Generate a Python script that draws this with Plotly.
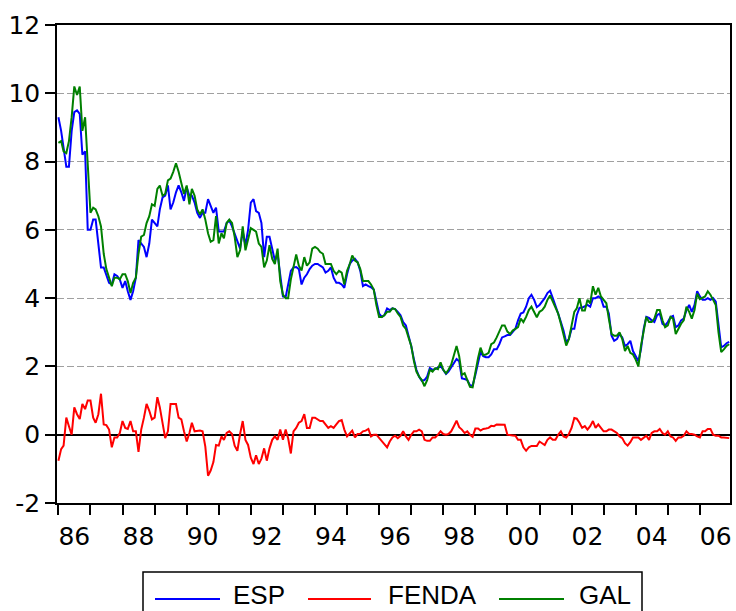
import pandas as pd
import plotly.graph_objects as go

# Monthly observations 1986M01 - 2006M12
dates = pd.date_range("1986-01-01", periods=252, freq="MS")

esp = [
    9.3, 8.9, 8.4, 7.85, 7.85, 8.9, 9.45, 9.5, 9.4, 8.2,
    8.3, 6.0, 6.0, 6.3, 6.3, 5.6, 4.9, 4.9, 4.65, 4.45,
    4.4, 4.7, 4.65, 4.55, 4.3, 4.5, 4.2, 3.95, 4.2, 4.6,
    5.7, 5.6, 5.5, 5.2, 5.6, 6.3, 6.2, 6.1, 6.6, 6.95,
    7.0, 7.3, 6.6, 6.8, 7.1, 7.3, 7.1, 6.85, 7.25, 7.0,
    7.0, 6.8, 6.5, 6.35, 6.5, 6.5, 6.9, 6.7, 6.5, 6.65,
    5.95, 5.95, 5.95, 6.2, 6.28, 6.1, 5.9, 5.7, 5.45, 5.95,
    5.55, 6.0, 6.8, 6.9, 6.55, 6.5, 6.2, 5.2, 5.8, 5.8,
    5.4, 5.1, 5.3, 4.6, 4.05, 4.03, 4.35, 4.8, 4.9, 4.91,
    4.85, 4.4, 4.6, 4.7, 4.85, 4.95, 5.0, 5.0, 4.95, 4.9,
    4.75, 4.8, 4.9, 4.6, 4.45, 4.45, 4.4, 4.3, 4.7, 5.0,
    5.1, 5.15, 5.05, 4.8, 4.35, 4.4, 4.35, 4.32, 4.25, 3.9,
    3.55, 3.45, 3.5, 3.7, 3.65, 3.7, 3.68, 3.6, 3.5, 3.3,
    3.2, 2.9, 2.6, 2.2, 1.9, 1.7, 1.58, 1.6, 1.7, 1.95,
    1.9, 1.92, 1.98, 2.02, 1.9, 1.78, 1.85, 1.98, 2.1, 2.22,
    2.15, 1.65, 1.63, 1.6, 1.45, 1.44, 1.75, 2.15, 2.42, 2.3,
    2.27, 2.27, 2.35, 2.5, 2.5, 2.65, 2.85, 2.88, 2.92, 2.92,
    3.0, 3.1, 3.35, 3.55, 3.58, 3.75, 4.0, 4.1, 3.95, 3.74,
    3.8, 3.9, 4.0, 4.15, 4.22, 4.0, 3.8, 3.55, 3.3, 3.05,
    2.71, 2.8, 3.1, 3.1, 3.5, 3.72, 3.72, 3.75, 3.8, 3.75,
    4.0, 4.0, 4.05, 4.0, 3.75, 3.75, 3.55, 2.9, 2.75, 2.8,
    2.95, 2.85, 2.6, 2.65, 2.75, 2.45, 2.3, 2.15, 2.5, 3.1,
    3.45, 3.42, 3.35, 3.3, 3.5, 3.55, 3.25, 3.2, 3.3, 3.45,
    3.48, 3.15, 3.2, 3.35, 3.4, 3.65, 3.8, 3.6, 3.8, 4.2,
    4.05, 3.95, 3.95, 4.0, 3.95, 4.0, 3.9, 3.2, 2.56, 2.6,
    2.68, 2.72,
]

gal = [
    8.55, 8.6, 8.3, 8.25, 8.6, 9.3, 10.2, 9.95, 10.2, 8.9,
    9.3, 8.0, 6.5, 6.65, 6.6, 6.4, 6.1, 5.3, 4.85, 4.6,
    4.35, 4.6, 4.6, 4.55, 4.7, 4.7, 4.5, 4.15, 4.45, 4.6,
    5.3, 5.8, 5.85, 6.2, 6.4, 6.75, 6.7, 7.2, 7.3, 7.0,
    7.05, 7.45, 7.5, 7.7, 7.95, 7.7, 7.4, 7.05, 7.3, 6.75,
    7.2, 7.0, 6.6, 6.45, 6.6, 6.3, 5.9, 5.65, 5.7, 6.4,
    5.6, 5.9, 5.75, 6.2, 6.3, 6.2, 5.8, 5.2, 5.4, 6.1,
    5.4, 5.7, 6.05, 6.0, 5.95, 5.6, 5.5, 4.9, 5.1, 5.55,
    5.15, 5.0, 5.45, 4.5, 4.1, 4.0, 4.0, 4.55, 4.9, 5.28,
    4.95, 4.81, 5.2, 4.95, 5.05, 5.45, 5.5, 5.45, 5.35, 5.3,
    5.0, 5.0, 5.0, 4.8, 4.7, 4.8, 4.75, 4.4, 4.8, 5.0,
    5.25, 5.1, 5.05, 4.85, 4.5, 4.5, 4.5, 4.4, 4.25, 3.8,
    3.45, 3.45, 3.5, 3.6, 3.6, 3.7, 3.68, 3.55, 3.45, 3.2,
    3.1, 2.85, 2.6, 2.15, 1.85, 1.7, 1.6, 1.42, 1.6, 1.9,
    1.85, 1.95, 1.92, 2.12, 1.9, 1.8, 1.9, 2.05, 2.3, 2.6,
    2.3, 1.75, 1.8, 1.6, 1.4, 1.39, 1.85, 2.25, 2.55, 2.33,
    2.35, 2.4, 2.65, 2.7, 2.85, 3.0, 3.2, 3.2, 3.02, 2.95,
    3.05, 3.1, 3.15, 3.4, 3.3, 3.45, 3.65, 3.75, 3.6, 3.44,
    3.6, 3.65, 3.75, 3.95, 4.08, 3.9, 3.7, 3.55, 3.25, 2.95,
    2.61, 2.8, 3.2, 3.6, 3.7, 4.0, 3.64, 3.64, 3.95, 3.85,
    4.35, 4.1, 4.3, 4.05, 3.95, 3.85, 3.4, 2.95, 2.9, 2.9,
    3.0, 2.8, 2.45, 2.6, 2.4, 2.35, 2.2, 2.0, 2.6, 3.1,
    3.45, 3.3, 3.3, 3.4, 3.65, 3.65, 3.35, 3.15, 3.2, 3.45,
    3.4, 2.95, 3.1, 3.25, 3.35, 3.75, 3.6, 3.4, 3.65, 4.13,
    3.97, 4.0, 4.05, 4.2, 4.1, 3.95, 3.8, 3.0, 2.42, 2.5,
    2.6, 2.65,
]

fenda = [
    -0.76, -0.42, -0.32, 0.5, 0.25, 0.0, 0.8, 0.6, 0.46, 0.9,
    0.75, 1.0, 1.0, 0.5, 0.35, 0.6, 1.2, 0.3, 0.28, 0.15,
    -0.37, -0.08, -0.08, 0.05, 0.4, 0.2, 0.17, 0.4, 0.1, 0.1,
    -0.5, 0.15, 0.5, 0.9, 0.7, 0.45, 0.5, 1.1, 0.8, 0.35,
    -0.1, 0.1, 0.9, 0.9, 0.9, 0.5, 0.45, 0.1, -0.2, 0.05,
    0.35, 0.1, 0.12, 0.12, 0.1, -0.35, -1.2, -1.05, -0.8, -0.3,
    -0.32, -0.05, -0.15, 0.05, 0.1, 0.02, -0.32, -0.47, 0.02, 0.4,
    -0.15, -0.3, -0.67, -0.86, -0.6, -0.86, -0.7, -0.4, -0.76, -0.4,
    -0.15, -0.05, -0.15, 0.15, -0.15, 0.15, -0.1, -0.55, 0.1, 0.2,
    0.35, 0.4, 0.6, 0.2, 0.2, 0.5, 0.5, 0.45, 0.4, 0.4,
    0.3, 0.2, 0.25, 0.2, 0.3, 0.4, 0.43, 0.15, -0.05, 0.05,
    0.12, -0.08, 0.02, 0.03, 0.1, 0.12, 0.17, -0.05, 0.0, 0.0,
    -0.1, -0.2, -0.3, -0.37, -0.2, -0.08, -0.03, -0.1, -0.03, 0.1,
    -0.05, -0.15, 0.0, 0.1, 0.1, 0.15, 0.1, -0.15, -0.18, -0.18,
    -0.08, -0.08, 0.0, 0.1, 0.02, 0.0, 0.02, 0.1, 0.25, 0.41,
    0.22, 0.15, 0.05, 0.1, 0.0, -0.06, 0.18, 0.18, 0.12, 0.17,
    0.18, 0.2, 0.26, 0.25, 0.3, 0.29, 0.29, 0.29, 0.0, 0.0,
    -0.02, -0.03, -0.15, -0.15, -0.37, -0.47, -0.37, -0.33, -0.33, -0.33,
    -0.2, -0.25, -0.3, -0.15, -0.08, -0.15, -0.15, 0.0, 0.1, -0.05,
    -0.08, 0.02, 0.2, 0.49, 0.47, 0.35, 0.2, 0.25, 0.15, 0.25,
    0.4, 0.2, 0.3, 0.2, 0.1, 0.1, 0.15, 0.15, 0.1, 0.05,
    -0.05, -0.1, -0.25, -0.32, -0.22, -0.08, -0.08, -0.08, -0.15, -0.08,
    -0.03, -0.15, 0.05, 0.1, 0.1, 0.17, 0.05, 0.0, 0.1, -0.05,
    -0.08, -0.18, -0.08, -0.08, -0.03, 0.1, 0.02, 0.02, 0.0, -0.05,
    -0.08, 0.1, 0.1, 0.17, 0.17, 0.0, -0.03, -0.03, -0.08, -0.08,
    -0.08, -0.1,
]

label_years = list(range(1986, 2007, 2))
tick_labels = [str(y)[2:] for y in label_years]
tick_years = list(range(1986, 2007))
y_ticks = [-2, 0, 2, 4, 6, 8, 10, 12]

series = [("ESP", esp, "#0000FF"), ("FENDA", fenda, "#FF0000"), ("GAL", gal, "#008000")]

fig = go.Figure()
for name, vals, col in series:
    fig.add_trace(go.Scatter(x=dates, y=vals, mode="lines", name=name,
                             line=dict(color=col, width=2), showlegend=False))

FONT = "DejaVu Sans"
FS = 25
fig.update_layout(
    width=736, height=611,
    margin=dict(l=57, r=6, t=25, b=108, autoexpand=False),
    plot_bgcolor="white", paper_bgcolor="white",
    font=dict(family=FONT, size=FS, color="black"),
)
fig.update_xaxes(
    automargin=False,
    range=["1985-12-16", "2006-12-10"],
    tickmode="array",
    tickvals=[f"{y}-07-01" for y in label_years],
    ticktext=tick_labels,
    ticks="outside", ticklen=10, tickcolor="rgba(0,0,0,0)",
    tickfont=dict(family=FONT, size=FS),
    showgrid=False, zeroline=False,
    showline=True, linecolor="black", linewidth=1.5, mirror=True,
    minor=dict(tickmode="array", tickvals=[f"{y}-01-01" for y in tick_years],
               ticks="outside", ticklen=10, tickcolor="black", tickwidth=1.5,
               showgrid=False),
)
fig.update_yaxes(
    automargin=False,
    range=[-2, 12],
    tickmode="array", tickvals=y_ticks, ticktext=[str(v) for v in y_ticks],
    ticks="outside", ticklen=10, tickcolor="black", tickwidth=1.5,
    tickfont=dict(family=FONT, size=FS),
    showgrid=True, gridcolor="#A0A0A0", gridwidth=1, griddash="7px,3px",
    zeroline=True, zerolinecolor="black", zerolinewidth=1.5,
    showline=True, linecolor="black", linewidth=1.5, mirror=True,
)

# Legend box drawn below the plot (EViews style)
def px_x(p):
    return (p - 57) / 673.0

def px_y(p):
    return (503 - p) / 478.0

shapes = [dict(type="rect", xref="paper", yref="paper",
               x0=px_x(143), x1=px_x(642), y0=px_y(572), y1=px_y(660),
               line=dict(color="black", width=1.5), fillcolor="white", layer="above")]
leg_items = [("ESP", "#0000FF", 155, 220, 231), ("FENDA", "#FF0000", 308, 371, 386),
             ("GAL", "#008000", 499, 564, 577)]
annotations = []
for name, col, lx0, lx1, tx in leg_items:
    shapes.append(dict(type="line", xref="paper", yref="paper",
                       x0=px_x(lx0), x1=px_x(lx1), y0=px_y(599), y1=px_y(599),
                       line=dict(color=col, width=2)))
    annotations.append(dict(text=name, xref="paper", yref="paper", x=px_x(tx), y=px_y(595),
                            xanchor="left", yanchor="middle", showarrow=False,
                            font=dict(family="Liberation Sans", size=26, color="black")))
fig.update_layout(shapes=shapes, annotations=annotations)

# Remove the default page margin so the figure sits at the window's top-left corner
fig.write_html("out.html", config={"displayModeBar": False},
               post_script="document.body.style.margin='0';")
